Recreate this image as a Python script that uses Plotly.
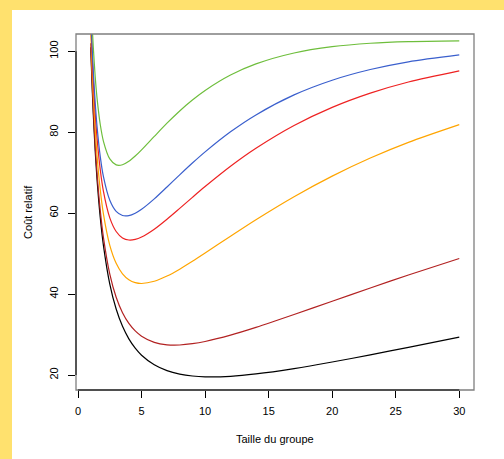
import plotly.graph_objects as go

# Group size (x) sample points
taille = [1, 1.1, 1.2, 1.35, 1.5, 1.75, 2, 2.5, 3, 3.5, 4, 4.5, 5, 6, 7, 8, 9, 10,
          12, 14, 17, 20, 23, 26, 30]

# Relative cost curves (one per prevalence level)
cout_noir = [101.0, 92.01, 84.53, 75.42, 68.16, 58.89, 51.99, 42.48, 36.30, 32.03,
             28.94, 26.64, 24.90, 22.52, 21.08, 20.23, 19.76, 19.56, 19.69, 20.27,
             21.59, 23.21, 24.99, 26.84, 29.36]
cout_rouge_fonce = [102.0, 93.11, 85.73, 76.76, 69.65, 60.62, 53.96, 44.93, 39.21, 35.40,
                    32.76, 30.91, 29.61, 28.08, 27.47, 27.42, 27.74, 28.29, 29.86, 31.78,
                    34.95, 38.24, 41.51, 44.71, 48.78]
cout_orange = [105.0, 96.40, 89.30, 80.76, 74.07, 65.73, 59.75, 52.04, 47.60, 45.00,
               43.55, 42.83, 42.62, 43.16, 44.45, 46.16, 48.09, 50.13, 54.30, 58.38,
               64.07, 69.15, 73.61, 77.49, 81.87]
cout_rouge = [108.0, 99.67, 92.85, 84.72, 78.42, 70.72, 65.36, 58.82, 55.46, 53.88,
              53.36, 53.51, 54.09, 56.03, 58.50, 61.18, 63.90, 66.56, 71.57, 76.02,
              81.65, 86.13, 89.65, 92.40, 95.14]
cout_bleu = [110.0, 101.85, 95.21, 87.33, 81.29, 73.98, 69.00, 63.16, 60.43, 59.41,
             59.39, 59.98, 60.95, 63.52, 66.46, 69.45, 72.37, 75.13, 80.09, 84.27,
             89.21, 92.84, 95.48, 97.39, 99.09]
cout_vert = [115.0, 107.28, 101.05, 93.77, 88.30, 81.90, 77.75, 73.39, 71.92, 71.95,
             72.80, 74.10, 75.63, 78.95, 82.23, 85.25, 87.95, 90.31, 94.11, 96.87,
             99.57, 101.12, 101.97, 102.38, 102.57]

x_ticks = [0, 5, 10, 15, 20, 25, 30]
y_ticks = [20, 40, 60, 80, 100]

series = [
    (cout_noir, "#000000"),
    (cout_rouge_fonce, "#B22222"),
    (cout_orange, "#FFA500"),
    (cout_rouge, "#EE2222"),
    (cout_bleu, "#3A5FCD"),
    (cout_vert, "#6EBE3C"),
]

fig = go.Figure()
for ys, col in series:
    fig.add_trace(go.Scatter(x=taille, y=ys, mode="lines",
                             line=dict(color=col, width=1.2, shape="spline", smoothing=0.8),
                             showlegend=False, hoverinfo="skip"))

font = dict(family="Liberation Sans, Arial, sans-serif", size=11, color="#000000")

fig.update_layout(
    width=504, height=459,
    margin=dict(l=76, r=30, t=34, b=69),
    paper_bgcolor="#FFE16E",
    plot_bgcolor="#FFFFFF",
    font=font,
    showlegend=False,
    xaxis=dict(range=[-0.16, 31.16], tickvals=x_ticks, ticks="outside", ticklen=7,
               tickcolor="#000000", showgrid=False, zeroline=False, showline=False,
               tickfont=font, ticklabelstandoff=4),
    yaxis=dict(range=[16.30, 104.26], tickvals=y_ticks, ticks="outside", ticklen=7,
               tickcolor="#000000", showgrid=False, zeroline=False, showline=False,
               tickangle=-90, tickfont=font, ticklabelstandoff=6),
    shapes=[
        # white panel (leaves a yellow band at top and left)
        dict(type="rect", xref="paper", yref="paper", x0=-0.1608, x1=1.3, y0=-0.4, y1=1.0674,
             fillcolor="#FFFFFF", line=dict(width=0), layer="below"),
        # plot box
        dict(type="rect", xref="paper", yref="paper", x0=0, x1=1, y0=0, y1=1,
             line=dict(color="#7F7F7F", width=1.3), layer="above"),
        # axis lines
        dict(type="line", xref="paper", yref="y", x0=0, x1=0, y0=20, y1=100,
             line=dict(color="#000000", width=1), layer="above"),
        dict(type="line", xref="x", yref="paper", x0=0, x1=30, y0=0, y1=0,
             line=dict(color="#000000", width=1), layer="above"),
    ],
    annotations=[
        dict(text="Taille du groupe", xref="paper", yref="paper", x=0.5, y=-0.1376,
             showarrow=False, font=font, xanchor="center", yanchor="middle"),
        dict(text="Coût relatif", xref="paper", yref="paper", x=-0.1206, y=0.5,
             showarrow=False, font=font, textangle=-90, xanchor="center", yanchor="middle"),
    ],
)

fig.write_html("out.html",
               config={"displayModeBar": False, "staticPlot": True},
               post_script="document.body.style.margin='0';document.body.style.overflow='hidden';")
